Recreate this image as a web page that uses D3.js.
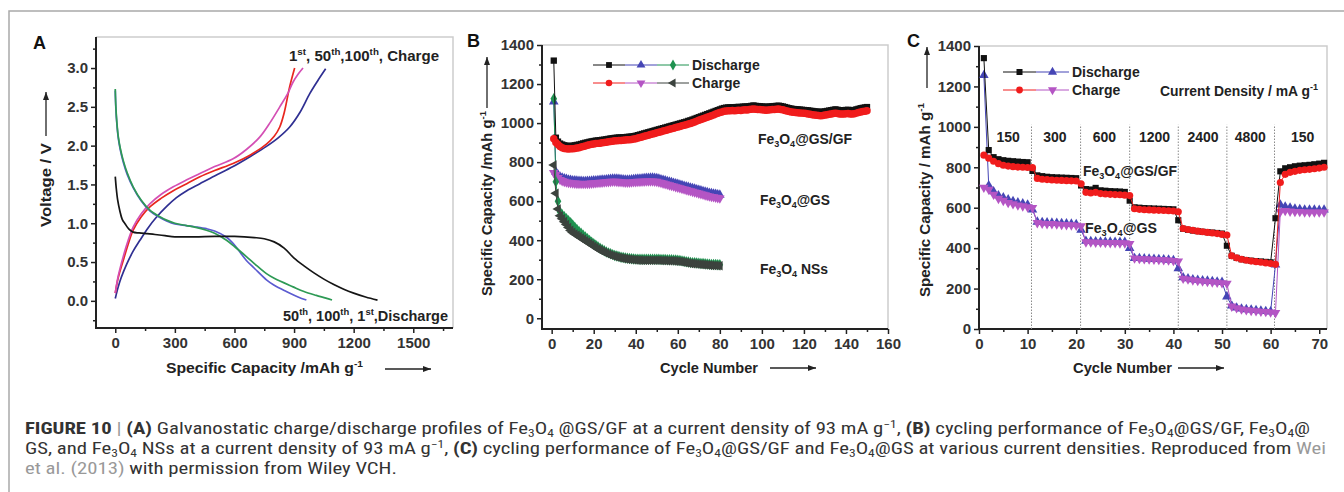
<!DOCTYPE html>
<html>
<head>
<meta charset="utf-8">
<script src="https://cdn.jsdelivr.net/npm/d3@7"></script>
<style>
  body { margin: 0; background: #fff; }
  svg { display: block; }
</style>
</head>
<body>
<div id="chart"></div>
<script>
// ---------- panel A : charge / discharge profiles (capacity mAh/g , voltage V)
const aCapDis1 = [0, 5, 12, 22, 35, 50, 70, 90, 120, 160, 200, 250, 300, 400, 500, 600, 700, 750, 800, 850, 900, 950, 1000, 1050, 1100, 1150, 1200, 1260, 1320];
const aVDis1 = [1.60, 1.45, 1.30, 1.17, 1.05, 0.99, 0.92, 0.885, 0.875, 0.865, 0.855, 0.84, 0.825, 0.825, 0.83, 0.83, 0.815, 0.80, 0.76, 0.68, 0.55, 0.45, 0.36, 0.28, 0.21, 0.15, 0.10, 0.05, 0.01];
const aCapDis50 = [0, 3, 8, 15, 25, 40, 60, 90, 130, 174, 220, 258, 300, 358, 400, 459, 500, 560, 600, 660, 700, 761, 800, 861, 920, 962];
const aVDis50 = [2.71, 2.48, 2.28, 2.10, 1.95, 1.79, 1.63, 1.46, 1.29, 1.16, 1.08, 1.03, 0.99, 0.97, 0.955, 0.93, 0.90, 0.82, 0.72, 0.52, 0.42, 0.27, 0.20, 0.12, 0.05, 0.01];
const aCapDis100 = [0, 3, 8, 15, 25, 40, 60, 90, 130, 174, 220, 258, 300, 358, 400, 459, 500, 560, 600, 660, 700, 761, 800, 895, 950, 1012, 1060, 1091];
const aVDis100 = [2.73, 2.50, 2.30, 2.12, 1.97, 1.81, 1.65, 1.47, 1.30, 1.17, 1.09, 1.04, 1.00, 0.97, 0.95, 0.91, 0.87, 0.78, 0.70, 0.57, 0.48, 0.35, 0.29, 0.18, 0.12, 0.07, 0.035, 0.01];
const aCapCha1 = [0, 15, 30, 57, 90, 124, 165, 208, 260, 308, 360, 426, 500, 593, 680, 761, 820, 878, 930, 979, 1020, 1059];
const aVCha1 = [0.03, 0.18, 0.30, 0.47, 0.64, 0.78, 0.94, 1.08, 1.22, 1.33, 1.42, 1.51, 1.61, 1.73, 1.86, 1.99, 2.10, 2.24, 2.43, 2.67, 2.84, 2.99];
const aCapCha50 = [0, 15, 40, 65, 90, 130, 174, 230, 292, 360, 426, 500, 593, 680, 761, 800, 828, 850, 878, 903];
const aVCha50 = [0.10, 0.30, 0.52, 0.73, 0.91, 1.08, 1.21, 1.32, 1.42, 1.51, 1.60, 1.68, 1.77, 1.88, 2.02, 2.12, 2.24, 2.42, 2.76, 3.00];
const aCapCha100 = [0, 15, 40, 65, 90, 130, 174, 230, 292, 360, 426, 500, 593, 660, 727, 780, 828, 870, 895, 920, 945];
const aVCha100 = [0.10, 0.32, 0.57, 0.78, 0.95, 1.12, 1.25, 1.37, 1.47, 1.56, 1.64, 1.73, 1.83, 1.95, 2.11, 2.30, 2.50, 2.68, 2.82, 2.92, 3.00];
const aXTicks = [0, 300, 600, 900, 1200, 1500];
const aYTicks = [0, 0.5, 1.0, 1.5, 2.0, 2.5, 3.0];

// ---------- panel B : cycling at 93 mA/g (capacity per cycle, cycle 1..n)
const bGSGFDis = [1320,925,905,895,890,886,884,882,883,884,
  886,888,890,893,896,899,901,904,906,908,
  910,911,912,914,915,917,919,921,922,924,
  925,926,926,927,928,929,930,931,933,935,
  938,941,944,947,950,953,956,959,962,965,
  968,971,974,977,980,983,986,989,992,995,
  998,1001,1004,1007,1011,1014,1018,1022,1026,1030,
  1034,1038,1042,1046,1050,1054,1058,1062,1066,1070,
  1074,1077,1079,1080,1080,1081,1080,1082,1083,1082,
  1084,1085,1084,1086,1088,1090,1088,1087,1086,1085,
  1084,1083,1084,1085,1086,1087,1088,1089,1087,1085,
  1082,1079,1076,1074,1072,1071,1070,1069,1068,1067,
  1066,1065,1063,1062,1060,1059,1058,1057,1058,1060,
  1062,1064,1066,1068,1070,1068,1066,1065,1066,1067,
  1068,1066,1065,1067,1070,1073,1076,1078,1080,1082];
const bGSGFCha = [920,900,890,880,873,870,868,867,868,869,
  870,872,874,877,880,883,886,889,891,893,
  895,896,897,899,900,902,904,906,907,909,
  910,911,911,912,913,914,915,916,918,920,
  923,926,929,932,935,938,941,944,947,950,
  953,956,959,962,965,968,971,974,977,980,
  983,986,989,992,995,998,1002,1006,1010,1014,
  1018,1022,1026,1030,1034,1038,1042,1046,1050,1054,
  1057,1060,1062,1063,1063,1064,1063,1065,1066,1065,
  1067,1068,1067,1069,1071,1072,1071,1070,1069,1068,
  1067,1066,1067,1068,1069,1070,1071,1072,1070,1068,
  1065,1062,1059,1057,1055,1054,1053,1052,1051,1050,
  1049,1047,1045,1043,1041,1040,1039,1038,1039,1041,
  1043,1045,1047,1049,1051,1049,1047,1046,1047,1048,
  1049,1047,1046,1048,1051,1054,1057,1059,1061,1063];
const bGSDis = [1110,750,735,725,720,716,713,710,708,706,
  705,704,703,703,702,702,703,703,704,705,
  706,707,708,709,710,711,712,713,714,715,
  714,713,712,711,710,710,710,711,712,713,
  714,715,716,717,718,718,719,719,718,717,
  714,711,708,705,702,699,696,693,690,687,
  684,681,678,675,672,669,666,663,660,657,
  654,651,648,645,642,640,638,636,634,632];
const bGSCha = [745,735,720,710,704,700,697,695,693,692,
  691,690,690,689,689,689,690,690,691,692,
  693,694,695,696,697,698,699,700,701,701,
  700,699,698,697,696,696,696,697,698,699,
  700,700,701,701,702,702,702,702,701,700,
  697,694,691,688,685,682,679,676,673,670,
  667,664,661,658,655,652,649,646,643,640,
  637,634,631,628,625,623,621,619,617,615];
const bNSDis = [1125,700,600,545,530,520,510,500,490,478,
  466,455,445,435,425,416,407,398,390,382,
  374,366,359,352,346,340,335,330,326,322,
  319,316,313,311,309,307,306,305,304,303,
  303,302,302,302,302,302,302,302,302,302,
  302,301,301,301,300,300,300,299,298,297,
  296,294,292,290,288,286,285,284,283,282,
  281,280,279,278,277,276,275,275,274,274];
const bNSCha = [785,640,560,525,510,495,480,465,450,440,
  432,425,418,411,404,397,390,383,376,369,
  362,355,349,343,338,333,328,324,320,317,
  314,311,309,307,305,303,302,301,300,299,
  298,298,297,297,297,297,297,297,297,297,
  297,296,296,296,295,295,295,294,293,292,
  291,289,287,285,283,281,280,279,278,277,
  276,275,274,273,272,271,270,270,269,269];
const bXTicks = [0, 20, 40, 60, 80, 100, 120, 140, 160];
const bYTicks = [0, 200, 400, 600, 800, 1000, 1200, 1400];

// ---------- panel C : rate capability (cycle 1..71)
const cGSGFDis = [1340,885,850,840,835,832,830,828,826,825,
  782,760,756,753,751,750,749,748,747,746,
  710,692,690,698,686,684,682,681,680,678,
  635,602,600,598,597,596,595,594,593,592,
  538,496,491,487,484,481,479,477,475,472,
  412,362,352,345,341,338,336,334,332,330,
  548,780,795,800,805,808,810,812,815,818,822];
const cGSGFCha = [860,845,830,818,810,806,803,801,800,799,
  798,745,741,739,737,736,735,734,733,732,
  718,676,673,676,670,668,666,665,664,662,
  660,595,592,590,589,588,587,586,585,584,
  580,497,492,488,484,481,478,475,472,468,
  465,362,352,345,340,336,333,330,327,324,
  320,725,765,775,780,785,788,790,793,796,800];
const cGSDis = [1255,710,680,660,650,640,632,625,620,615,
  590,530,528,526,525,524,523,522,520,518,
  490,435,434,433,432,432,431,430,430,430,
  400,350,350,348,347,346,345,344,342,340,
  300,255,250,245,242,240,238,236,234,232,
  160,115,105,100,97,95,93,90,88,86,
  318,615,605,600,595,592,590,590,590,588,590];
const cGSCha = [700,690,665,645,635,625,618,612,608,603,
  600,525,522,520,520,518,516,515,514,512,
  510,430,429,428,428,427,426,426,425,425,
  422,350,348,346,345,344,343,342,340,338,
  335,250,246,242,239,236,234,232,230,228,
  225,112,104,98,94,91,89,87,85,83,
  80,580,585,582,580,580,578,578,578,578,578];
const cStepCycles = [10.8, 20.9, 31, 41, 51, 60.8];
const cRateLabels = ["150", "300", "600", "1200", "2400", "4800", "150"];
const cRateCenters = [6, 15.6, 25.8, 36.1, 46.1, 55.8, 66.6];
const cXTicks = [0, 10, 20, 30, 40, 50, 60, 70];
const cYTicks = [0, 200, 400, 600, 800, 1000, 1200, 1400];

const W = 1344, H = 492;
const FONT = "'Liberation Sans', Arial, Helvetica, sans-serif";
const CAPFONT = "'Liberation Sans Narrow', 'Roboto Condensed', 'Liberation Sans', Arial, sans-serif";
const INK = "#222";

const svg = d3.select("#chart").append("svg").attr("width", W).attr("height", H);

svg.append("defs").append("marker")
  .attr("id", "arr").attr("viewBox", "0 0 8 6").attr("refX", 8).attr("refY", 3)
  .attr("markerWidth", 8).attr("markerHeight", 6).attr("markerUnits", "userSpaceOnUse")
  .attr("orient", "auto")
  .append("path").attr("d", "M0,0L8,3L0,6Z").attr("fill", INK);

// page frame
svg.append("path").attr("d", `M${W},11H9V${H}`).attr("fill", "none")
  .attr("stroke", "#a9a9a9").attr("stroke-width", 1.5);

// text with sub / superscripts
function rich(parent, x, y, parts, size, opts = {}) {
  const t = parent.append("text").attr("x", x).attr("y", y)
    .attr("font-family", opts.font || FONT).attr("font-size", size)
    .attr("font-weight", opts.weight || "bold").attr("fill", opts.fill || INK);
  let shift = 0;
  parts.forEach(p => {
    if (typeof p === "string") p = { t: p };
    const s = p.s === "sub" ? size * 0.2 : p.s === "sup" ? -size * 0.4 : 0;
    const ts = t.append("tspan").text(p.t).attr("dy", s - shift);
    shift = s;
    if (p.s) ts.attr("font-size", size * 0.65);
    if (p.w) ts.attr("font-weight", p.w);
    if (p.c) ts.attr("fill", p.c);
  });
  if (opts.rotate) t.attr("transform", `rotate(-90,${x},${y})`);
  if (opts.len) t.attr("textLength", opts.len).attr("lengthAdjust", "spacingAndGlyphs");
  return t;
}

function arrow(x1, y1, x2, y2) {
  svg.append("line").attr("x1", x1).attr("y1", y1).attr("x2", x2).attr("y2", y2)
    .attr("stroke", INK).attr("stroke-width", 1.3).attr("marker-end", "url(#arr)");
}

function styleAxis(ax) {
  ax.select(".domain").remove();
  ax.selectAll("line").attr("stroke", INK).attr("stroke-width", 1.5);
  ax.selectAll("text").attr("font-family", FONT).attr("font-weight", "bold")
    .attr("font-size", 15).attr("fill", "#333");
}

function panel(c) {
  const x = d3.scaleLinear().domain(c.xDomain).range([c.left, c.right]);
  const y = d3.scaleLinear().domain(c.yDomain).range([c.bottom, c.top]);
  const g = svg.append("g");
  g.append("path").attr("d", `M${c.left},${c.top}H${c.right}V${c.bottom}`)
    .attr("fill", "none").attr("stroke", "#cdcdcd").attr("stroke-width", 1.5);
  const xa = g.append("g").attr("transform", `translate(0,${c.bottom})`)
    .call(d3.axisBottom(x).tickValues(c.xTicks).tickSize(5).tickPadding(4).tickFormat(c.xFmt));
  styleAxis(xa);
  const xm = g.append("g").attr("transform", `translate(0,${c.bottom})`)
    .call(d3.axisBottom(x).tickValues(c.xMinor).tickSize(3).tickFormat(""));
  styleAxis(xm);
  const ya = g.append("g").attr("transform", `translate(${c.left},0)`)
    .call(d3.axisLeft(y).tickValues(c.yTicks).tickSize(5).tickPadding(3).tickFormat(c.yFmt));
  styleAxis(ya);
  const ym = g.append("g").attr("transform", `translate(${c.left},0)`)
    .call(d3.axisLeft(y).tickValues(c.yMinor).tickSize(3).tickFormat(""));
  styleAxis(ym);
  g.append("path").attr("d", `M${c.left},${c.top}V${c.bottom}H${c.right}`)
    .attr("fill", "none").attr("stroke", INK).attr("stroke-width", 2);
  return { g, x, y };
}

function series(g, x, y, ys, color, type, size, rot) {
  const xs = ys.map((d, i) => i + 1);
  g.append("path").datum(ys).attr("fill", "none").attr("stroke", color).attr("stroke-width", 1)
    .attr("d", d3.line().x((d, i) => x(xs[i])).y(d => y(d)));
  g.selectAll(null).data(ys).enter().append("path")
    .attr("d", d3.symbol().type(type).size(size))
    .attr("transform", (d, i) => `translate(${x(xs[i])},${y(d)}) rotate(${rot || 0})`)
    .attr("fill", color);
}

function legendRow(g, x0, yy, items, label, seg, size) {
  items.forEach((it, i) => {
    const a = x0 + i * seg;
    g.append("line").attr("x1", a).attr("x2", a + seg).attr("y1", yy).attr("y2", yy)
      .attr("stroke", it.color).attr("stroke-width", 1);
    g.append("path").attr("d", d3.symbol().type(it.type).size(size))
      .attr("transform", `translate(${a + seg / 2},${yy}) rotate(${it.rot || 0})`)
      .attr("fill", it.color);
  });
  rich(g, x0 + items.length * seg + 3, yy + 5, [label], 14);
}

const fe = (tail) => ["Fe", { t: "3", s: "sub" }, "O", { t: "4", s: "sub" }, tail];

// ================= A
{
  const range = (a, b, s) => d3.range(a, b + 1e-9, s);
  const p = panel({
    left: 96, right: 453, top: 37, bottom: 328,
    xDomain: [-97, 1700], yDomain: [-0.35, 3.4],
    xTicks: aXTicks, xMinor: range(150, 1650, 300), xFmt: d3.format("d"),
    yTicks: aYTicks, yMinor: range(-0.25, 3.25, 0.5), yFmt: d3.format(".1f")
  });
  const curve = (caps, vs, color) => {
    p.g.append("path").datum(vs).attr("fill", "none").attr("stroke", color)
      .attr("stroke-width", 1.7)
      .attr("d", d3.line().curve(d3.curveCatmullRom)
        .x((d, i) => p.x(caps[i])).y(d => p.y(d)));
  };
  curve(aCapCha1, aVCha1, "#2f2f92");
  curve(aCapCha50, aVCha50, "#e8261e");
  curve(aCapCha100, aVCha100, "#d44fb4");
  curve(aCapDis50, aVDis50, "#5b5bd0");
  curve(aCapDis100, aVDis100, "#2e9a55");
  curve(aCapDis1, aVDis1, "#151515");

  rich(svg, 289, 61, ["1", { t: "st", s: "sup" }, ", 50", { t: "th", s: "sup" }, ",100",
    { t: "th", s: "sup" }, ",  Charge"], 14, { len: 150 });
  rich(svg, 283, 321, ["50", { t: "th", s: "sup" }, ", 100", { t: "th", s: "sup" }, ", 1",
    { t: "st", s: "sup" }, ",Discharge"], 14, { len: 165 });

  rich(svg, 33, 49, ["A"], 18, { fill: "#111" });
  rich(svg, 166, 373, ["Specific Capacity /mAh g", { t: "-1", s: "sup" }], 15, { len: 197 });
  arrow(385, 369, 431, 369);
  rich(svg, 51, 227, ["Voltage / V"], 15, { rotate: true, len: 84 });
  arrow(46, 136, 46, 92);
}

// ================= B
{
  const p = panel({
    left: 542, right: 888, top: 45, bottom: 329,
    xDomain: [-4.6, 160], yDomain: [-55, 1400],
    xTicks: bXTicks, xMinor: d3.range(10, 160, 20), xFmt: d3.format("d"),
    yTicks: bYTicks, yMinor: d3.range(100, 1400, 200), yFmt: d3.format("d")
  });
  series(p.g, p.x, p.y, bGSDis, "#4545b5", d3.symbolTriangle, 40);
  series(p.g, p.x, p.y, bGSCha, "#b455c4", d3.symbolTriangle, 40, 180);
  series(p.g, p.x, p.y, bNSDis, "#1f9250", d3.symbolDiamond, 38);
  series(p.g, p.x, p.y, bNSCha, "#3c433e", d3.symbolTriangle, 40, -90);
  series(p.g, p.x, p.y, bGSGFDis, "#111", d3.symbolSquare, 40);
  series(p.g, p.x, p.y, bGSGFCha, "#f01c1c", d3.symbolCircle, 44);

  legendRow(svg, 593, 65, [
    { color: "#111", type: d3.symbolSquare },
    { color: "#4545b5", type: d3.symbolTriangle },
    { color: "#1f9250", type: d3.symbolDiamond }], "Discharge", 32, 34);
  legendRow(svg, 593, 83, [
    { color: "#f01c1c", type: d3.symbolCircle },
    { color: "#b455c4", type: d3.symbolTriangle, rot: 180 },
    { color: "#3c433e", type: d3.symbolTriangle, rot: -90 }], "Charge", 32, 34);

  rich(svg, 758, 144, fe("@GS/GF"), 14, { len: 94 });
  rich(svg, 760, 205, fe("@GS"), 14, { len: 70 });
  rich(svg, 760, 274, fe(" NSs"), 14, { len: 68 });

  rich(svg, 467, 47, ["B"], 18, { fill: "#111" });
  rich(svg, 660, 373, ["Cycle Number"], 15, { len: 98 });
  arrow(770, 368, 816, 368);
  rich(svg, 492, 296, ["Specific Capacity /mAh g", { t: "-1", s: "sup" }], 15, { rotate: true, len: 185 });
  arrow(487, 108, 487, 57);
}

// ================= C
{
  const p = panel({
    left: 979, right: 1327, top: 46, bottom: 329,
    xDomain: [0, 71.6], yDomain: [0, 1400],
    xTicks: cXTicks, xMinor: d3.range(5, 70, 10), xFmt: d3.format("d"),
    yTicks: cYTicks, yMinor: d3.range(100, 1400, 200), yFmt: d3.format("d")
  });
  p.g.selectAll(".step").data(cStepCycles).enter().append("line")
    .attr("x1", d => p.x(d)).attr("x2", d => p.x(d))
    .attr("y1", p.y(0)).attr("y2", p.y(1010))
    .attr("stroke", "#8a8a8a").attr("stroke-width", 1).attr("stroke-dasharray", "1.5,1.5");
  p.g.selectAll(".rate").data(cRateLabels).enter().append("text")
    .attr("x", (d, i) => p.x(cRateCenters[i])).attr("y", 142)
    .attr("text-anchor", "middle").attr("font-family", FONT).attr("font-weight", "bold")
    .attr("font-size", 14).attr("fill", INK).text(d => d);

  series(p.g, p.x, p.y, cGSDis, "#4545b5", d3.symbolTriangle, 40);
  series(p.g, p.x, p.y, cGSCha, "#b455c4", d3.symbolTriangle, 40, 180);
  series(p.g, p.x, p.y, cGSGFDis, "#111", d3.symbolSquare, 38);
  series(p.g, p.x, p.y, cGSGFCha, "#f01c1c", d3.symbolCircle, 40);

  legendRow(svg, 1003, 72, [
    { color: "#111", type: d3.symbolSquare },
    { color: "#4545b5", type: d3.symbolTriangle }], "Discharge", 33, 36);
  legendRow(svg, 1003, 90, [
    { color: "#f01c1c", type: d3.symbolCircle },
    { color: "#b455c4", type: d3.symbolTriangle, rot: 180 }], "Charge", 33, 36);

  rich(svg, 1160, 96, ["Current Density / mA g", { t: "-1", s: "sup" }], 14, { len: 158 });
  rich(svg, 1083, 176, fe("@GS/GF"), 14, { len: 94 });
  rich(svg, 1085, 233, fe("@GS"), 14, { len: 72 });

  rich(svg, 907, 47, ["C"], 18, { fill: "#111" });
  rich(svg, 1073, 373, ["Cycle Number"], 15, { len: 99 });
  arrow(1178, 368, 1224, 368);
  rich(svg, 930, 297, ["Specific Capacity / mAh g", { t: "-1", s: "sup" }], 15, { rotate: true, len: 194 });
  arrow(927, 88, 927, 47);
}

// ================= caption
{
  const cap = { font: CAPFONT, weight: "normal", fill: "#333" };
  const sub = t => ({ t, s: "sub" });
  const feC = tail => ["Fe", sub("3"), "O", sub("4"), tail];
  rich(svg, 25, 434, [
    { t: "FIGURE 10", w: "bold" }, { t: " |  ", c: "#999" }, { t: "(A)", w: "bold" },
    " Galvanostatic charge/discharge profiles of ", ...feC(" @GS/GF at a current density of 93 mA g"),
    { t: "\u22121", s: "sup" }, ", ", { t: "(B)", w: "bold" }, " cycling performance of ",
    ...feC("@GS/GF, "), ...feC("@")], 16, { ...cap, len: 1285 });
  const l2 = rich(svg, 25, 454, [
    "GS, and ", ...feC(" NSs at a current density of 93 mA g"), { t: "\u22121", s: "sup" }, ", ",
    { t: "(C)", w: "bold" }, " cycling performance of ", ...feC("@GS/GF and "),
    ...feC("@GS at various current densities. Reproduced from "), { t: "Wei", c: "#999" }],
    16, cap);
  const l3 = rich(svg, 25, 474, [{ t: "et al. (2013)", c: "#999" }, " with permission from Wiley VCH."],
    16, cap);
  // same horizontal squeeze for lines 2 and 3
  const k = 1301 / l2.node().getComputedTextLength();
  const w3 = l3.node().getComputedTextLength();
  l2.attr("textLength", 1301).attr("lengthAdjust", "spacingAndGlyphs");
  l3.attr("textLength", w3 * k).attr("lengthAdjust", "spacingAndGlyphs");
}
</script>
</body>
</html>
